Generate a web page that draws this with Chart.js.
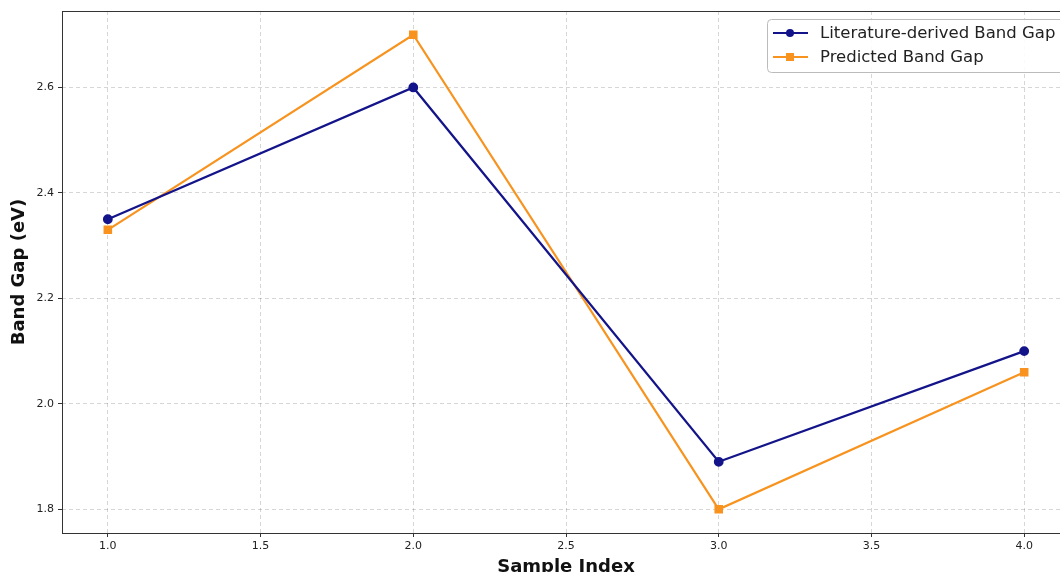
<!DOCTYPE html>
<html>
<head>
<meta charset="utf-8">
<script src="https://cdn.jsdelivr.net/npm/chart.js@4.4.1/dist/chart.umd.min.js"></script>
<style>
  html, body { margin: 0; padding: 0; background: #fff; overflow: hidden; }
  #wrap { width: 1080px; height: 590px; }
</style>
</head>
<body>
<div id="wrap"><canvas id="myChart" width="1080" height="590"></canvas></div>
<script>
var sampleIndex = [1, 2, 3, 4];
var literatureGap = [2.35, 2.60, 1.89, 2.10];
var predictedGap = [2.33, 2.70, 1.80, 2.06];
var xTickValues = [1.0, 1.5, 2.0, 2.5, 3.0, 3.5, 4.0];
var yTickValues = [1.8, 2.0, 2.2, 2.4, 2.6];

function toPoints(ys) {
    var pts = [];
    for (var i = 0; i < sampleIndex.length; i++) {
        pts.push({ x: sampleIndex[i], y: ys[i] });
    }
    return pts;
}

var fontFamily = "'DejaVu Sans', sans-serif";

// frame round the plot area + legend inside it
var framePlugin = {
    id: 'frame',
    afterDraw: function (chart) {
        var ctx = chart.ctx, a = chart.chartArea;
        ctx.save();
        ctx.strokeStyle = '#333';
        ctx.lineWidth = 1;
        ctx.strokeRect(a.left + 0.5, a.top + 0.5, a.right - a.left, a.bottom - a.top);

        var bx = 767.5, by = 19.5, bw = 300, bh = 53;
        ctx.beginPath();
        ctx.roundRect(bx, by, bw, bh, 4);
        ctx.fillStyle = 'rgba(255,255,255,0.9)';
        ctx.fill();
        ctx.strokeStyle = '#bbb';
        ctx.stroke();

        ctx.font = '16.5px ' + fontFamily;
        ctx.textBaseline = 'middle';
        chart.data.datasets.forEach(function (ds, i) {
            var y = 33 + i * 24;
            ctx.strokeStyle = ds.borderColor;
            ctx.lineWidth = 2.2;
            ctx.beginPath();
            ctx.moveTo(773, y);
            ctx.lineTo(808, y);
            ctx.stroke();
            ctx.fillStyle = ds.borderColor;
            if (ds.pointStyle == 'rect') {
                ctx.fillRect(786, y - 4, 8, 8);
            } else {
                ctx.beginPath();
                ctx.arc(790, y, 4, 0, Math.PI * 2);
                ctx.fill();
            }
            ctx.fillStyle = '#222';
            ctx.fillText(ds.label, 820, y + 1);
        });
        ctx.restore();
    }
};

var gridOpts = {
    color: 'rgba(0,0,0,0.16)',
    tickColor: '#333',
    tickLength: 4,
    tickBorderDash: []
};

var ctx = document.getElementById('myChart').getContext('2d');
var myChart = new Chart(ctx, {
    type: 'line',
    data: {
        datasets: [
            {
                label: 'Literature-derived Band Gap',
                data: toPoints(literatureGap),
                borderColor: '#14148a',
                backgroundColor: '#14148a',
                borderWidth: 2.2,
                pointStyle: 'circle',
                pointRadius: 3.8,
                pointHoverRadius: 3.8
            },
            {
                label: 'Predicted Band Gap',
                data: toPoints(predictedGap),
                borderColor: '#f7931e',
                backgroundColor: '#f7931e',
                borderWidth: 2.2,
                pointStyle: 'rect',
                pointRadius: 4.5,
                pointHoverRadius: 4.5
            }
        ]
    },
    options: {
        responsive: false,
        animation: false,
        layout: { padding: { top: 11, right: 10, left: 0, bottom: 0 } },
        plugins: {
            legend: { display: false },
            tooltip: { enabled: false }
        },
        scales: {
            x: {
                type: 'linear',
                min: 0.85,
                max: 4.15,
                afterBuildTicks: function (scale) {
                    scale.ticks = xTickValues.map(function (v) { return { value: v }; });
                },
                afterFit: function (scale) { scale.height = 57; },
                ticks: {
                    padding: 3,
                    color: '#222',
                    font: { family: fontFamily, size: 11 },
                    maxRotation: 0,
                    callback: function (v) { return v.toFixed(1); }
                },
                grid: gridOpts,
                border: { display: false, dash: [4, 3] },
                title: {
                    display: true,
                    text: 'Sample Index',
                    color: '#111',
                    font: { family: fontFamily, size: 18, weight: 'bold' },
                    padding: { top: 0, bottom: 12 }
                }
            },
            y: {
                type: 'linear',
                min: 1.755,
                max: 2.745,
                afterBuildTicks: function (scale) {
                    scale.ticks = yTickValues.map(function (v) { return { value: v }; });
                },
                afterFit: function (scale) { scale.width = 62; },
                ticks: {
                    padding: 4,
                    color: '#222',
                    font: { family: fontFamily, size: 11 },
                    callback: function (v) { return v.toFixed(1); }
                },
                grid: gridOpts,
                border: { display: false, dash: [4, 3] },
                title: {
                    display: true,
                    text: 'Band Gap (eV)',
                    color: '#111',
                    font: { family: fontFamily, size: 18, weight: 'bold' },
                    padding: { top: 9, bottom: 0 }
                }
            }
        }
    },
    plugins: [framePlugin]
});
</script>
</body>
</html>
